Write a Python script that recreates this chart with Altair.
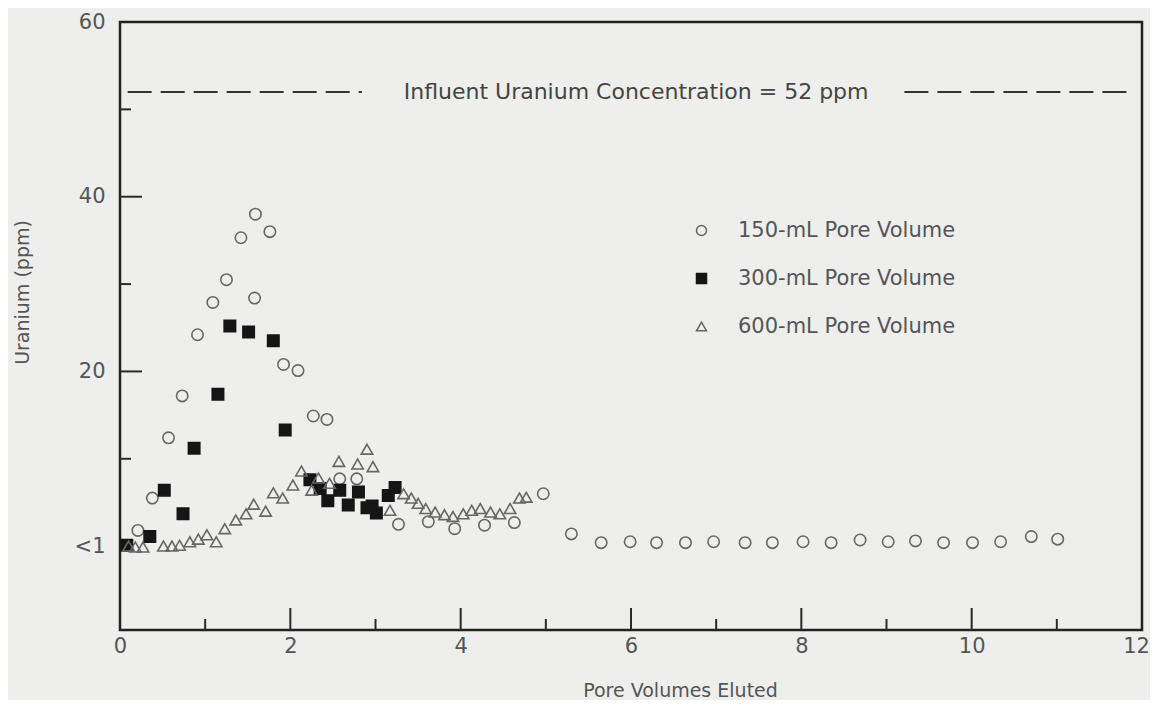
import altair as alt
import pandas as pd

# ---- data ----
names = ["150-mL Pore Volume", "300-mL Pore Volume", "600-mL Pore Volume"]

x150 = [0.21, 0.38, 0.57, 0.73, 0.91, 1.09, 1.25, 1.42, 1.58, 1.59, 1.76, 1.92, 2.09,
        2.27, 2.43, 2.58, 2.78, 3.27, 3.62, 3.93, 4.28, 4.63, 4.97, 5.30, 5.65, 5.99,
        6.30, 6.64, 6.97, 7.34, 7.66, 8.02, 8.35, 8.69, 9.02, 9.34, 9.67, 10.01, 10.34,
        10.70, 11.01]
y150 = [1.8, 5.5, 12.4, 17.2, 24.2, 27.9, 30.5, 35.3, 28.4, 38.0, 36.0, 20.8, 20.1,
        14.9, 14.5, 7.7, 7.7, 2.5, 2.8, 2.0, 2.4, 2.7, 6.0, 1.4, 0.4, 0.5,
        0.4, 0.4, 0.5, 0.4, 0.4, 0.5, 0.4, 0.7, 0.5, 0.6, 0.4, 0.4, 0.5,
        1.1, 0.8]

x300 = [0.08, 0.35, 0.52, 0.74, 0.87, 1.15, 1.29, 1.51, 1.80, 1.94, 2.23, 2.35, 2.44,
        2.58, 2.68, 2.80, 2.90, 2.96, 3.01, 3.15, 3.23]
y300 = [0.1, 1.1, 6.4, 3.7, 11.2, 17.4, 25.2, 24.5, 23.5, 13.3, 7.6, 6.6, 5.2,
        6.4, 4.7, 6.2, 4.4, 4.6, 3.8, 5.8, 6.7]

x600 = [0.10, 0.18, 0.27, 0.51, 0.61, 0.70, 0.82, 0.92, 1.02, 1.13, 1.23, 1.36, 1.48,
        1.57, 1.71, 1.80, 1.91, 2.03, 2.13, 2.25, 2.33, 2.46, 2.57, 2.79, 2.90, 2.97,
        3.17, 3.33, 3.42, 3.50, 3.59, 3.70, 3.81, 3.91, 4.03, 4.13, 4.23, 4.35, 4.46,
        4.58, 4.69, 4.77]
y600 = [0.0, -0.1, -0.1, 0.0, 0.0, 0.1, 0.5, 0.8, 1.3, 0.5, 2.0, 3.0, 3.7,
        4.8, 4.0, 6.1, 5.5, 7.0, 8.6, 6.4, 7.8, 7.2, 9.7, 9.4, 11.1, 9.1,
        4.1, 6.0, 5.5, 4.9, 4.3, 3.9, 3.6, 3.4, 3.7, 4.1, 4.3, 3.9, 3.7,
        4.3, 5.5, 5.6]

x_ticks_major = [2, 4, 6, 8, 10]
x_ticks_minor = [1, 3, 5, 7, 9, 11]
y_ticks_major = [20, 40]
y_ticks_minor = [10, 30, 50]
x_labels = [0, 2, 4, 6, 8, 10, 12]
y_labels = [0, 20, 40, 60]

influent_value = 52
influent_text = "Influent Uranium Concentration = 52 ppm"
influent_seg_start = [0.09, 9.21]
influent_seg_end = [2.84, 11.91]
influent_text_x = 6.06

# ---- build ----
df = pd.DataFrame({
    "x": x150 + x300 + x600,
    "y": y150 + y300 + y600,
    "series": [names[0]] * len(x150) + [names[1]] * len(x300) + [names[2]] * len(x600),
})

FONT = "DejaVu Sans"
TXT = "#555555"
xs = alt.Scale(domain=[0, 12], nice=False, zero=False)
ys = alt.Scale(domain=[-9.6, 60], nice=False, zero=False)

xaxis = alt.Axis(
    values=x_labels, title="Pore Volumes Eluted", grid=False, domain=False, ticks=False,
    labelFontSize=21, labelColor=TXT, labelFont=FONT, labelPadding=5, labelFlush=False,
    labelOverlap=False, labelBound=False,
    labelOffset={"condition": {"test": "datum.value == 12", "value": -6}, "value": 0},
    titleFontSize=19, titleColor=TXT, titleFont=FONT, titleFontWeight="normal",
    titleX=560, titleY=60, titleBaseline="middle")
yaxis = alt.Axis(
    values=y_labels, title="Uranium (ppm)", grid=False, domain=False, ticks=False,
    labelExpr="datum.value == 0 ? '<1' : datum.label", labelFlush=False,
    labelFontSize=21, labelColor=TXT, labelFont=FONT, labelPadding=15,
    titleFontSize=19, titleColor=TXT, titleFont=FONT, titleFontWeight="normal",
    titleX=-98, titleY=270, titleBaseline="middle", titleAngle=-90)

legend = alt.Legend(
    title=None, orient="none", legendX=571, legendY=198,
    labelFontSize=21, labelColor=TXT, labelFont=FONT, labelOffset=26, labelLimit=0,
    rowPadding=26, symbolSize=100, symbolStrokeWidth=1.5, padding=0,
)

points = alt.Chart(df).mark_point(size=130, strokeWidth=1.6, opacity=1).encode(
    x=alt.X("x:Q", scale=xs, axis=xaxis),
    y=alt.Y("y:Q", scale=ys, axis=yaxis),
    shape=alt.Shape("series:N", scale=alt.Scale(domain=names, range=["circle", "square", "triangle-up"]), legend=legend),
    stroke=alt.Stroke("series:N", scale=alt.Scale(domain=names, range=["#666666", "#151515", "#666666"]), legend=legend),
    fill=alt.Fill("series:N", scale=alt.Scale(domain=names, range=["transparent", "#151515", "transparent"]), legend=legend),
)

def xtick(vals, length):
    return alt.Chart(pd.DataFrame({"x": vals})).mark_rule(color="#2a2a2a", strokeWidth=2).encode(
        x=alt.X("x:Q", scale=xs, axis=xaxis), y=alt.value(608), y2=alt.value(608 - length))

def ytick(vals, length):
    return alt.Chart(pd.DataFrame({"y": vals})).mark_rule(color="#2a2a2a", strokeWidth=2).encode(
        y=alt.Y("y:Q", scale=ys, axis=yaxis), x=alt.value(0), x2=alt.value(length))

ref_df = pd.DataFrame({"x": influent_seg_start, "x2": influent_seg_end,
                       "y": [influent_value] * len(influent_seg_start)})
ref = alt.Chart(ref_df).mark_rule(color="#333333", strokeWidth=2, strokeDash=[24, 9]).encode(
    x=alt.X("x:Q", scale=xs, axis=xaxis), x2="x2:Q", y=alt.Y("y:Q", scale=ys, axis=yaxis))

ref_text = alt.Chart(pd.DataFrame({"x": [influent_text_x], "y": [influent_value], "t": [influent_text]})).mark_text(
    fontSize=22, font=FONT, color="#444444", baseline="middle", align="center").encode(
    x=alt.X("x:Q", scale=xs, axis=xaxis), y=alt.Y("y:Q", scale=ys, axis=yaxis), text="t:N")

chart = alt.layer(
    ref, ref_text,
    xtick(x_ticks_major, 22), xtick(x_ticks_minor, 11),
    ytick(y_ticks_major, 22), ytick(y_ticks_minor, 11),
    points,
).properties(
    width=1022, height=608,
    autosize=alt.AutoSizeParams(type="none"),
    padding={"left": 112, "top": 14, "right": 8, "bottom": 70},
    background="#eeeeec",
).configure_view(
    stroke="#222222", strokeWidth=2.5, fill="#eeeeec",
)

chart.save("out.html", embed_options={"renderer": "svg", "actions": False})
